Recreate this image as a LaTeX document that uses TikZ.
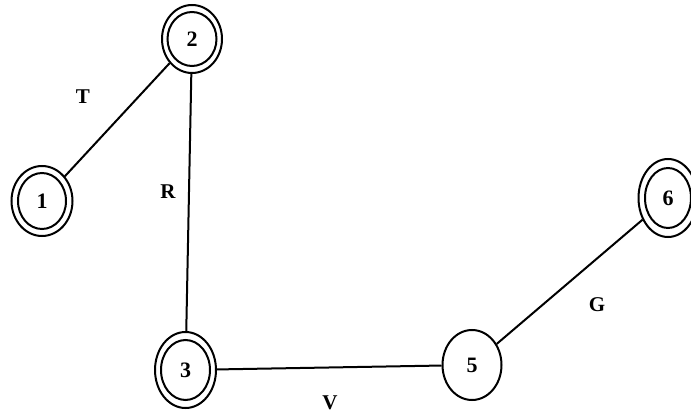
\documentclass[tikz,border=0pt]{standalone}
\usepackage{fontspec}
\setmainfont{Liberation Serif}
\usetikzlibrary{shapes.geometric}
\begin{document}
\begin{tikzpicture}[x=1pt,y=-1pt,
  lw/.style={line width=2pt},
  state/.style={ellipse,draw,lw,inner sep=0pt,font=\fontsize{22}{26}\selectfont\bfseries},
  lbl/.style={font=\fontsize{21}{25}\selectfont\bfseries,inner sep=0pt},
  edge/.style={lw}]
\useasboundingbox (0,0) rectangle (691,414);
\node[state,minimum width=61pt,minimum height=70pt] (n1) at (42,201) {1};
\node[state,minimum width=60pt,minimum height=68pt] (n2) at (192,39) {2};
\node[state,minimum width=61pt,minimum height=76pt] (n3) at (185.5,370) {3};
\node[state,minimum width=59pt,minimum height=70pt] (n5) at (472,365) {5};
\node[state,minimum width=59pt,minimum height=78pt] (n6) at (668,198) {6};
\draw[lw] (n1.center) ellipse [x radius=24pt, y radius=28pt];
\draw[lw] (n2.center) ellipse [x radius=24.5pt, y radius=27pt];
\draw[lw] (n3.center) ellipse [x radius=24.5pt, y radius=30pt];
\draw[lw] (n6.center) ellipse [x radius=23pt, y radius=30pt];
\draw[edge] (n1) -- (n2);
\draw[edge] (n2) -- (n3);
\draw[edge] (n3) -- (n5);
\draw[edge] (n5) -- (n6);
\node[lbl] (lt) at (83,97) {T};
\node[lbl] (lr) at (168,192) {R};
\node[lbl] (lv) at (330,403) {V};
\node[lbl] (lg) at (597,305) {G};
\end{tikzpicture}
\end{document}
